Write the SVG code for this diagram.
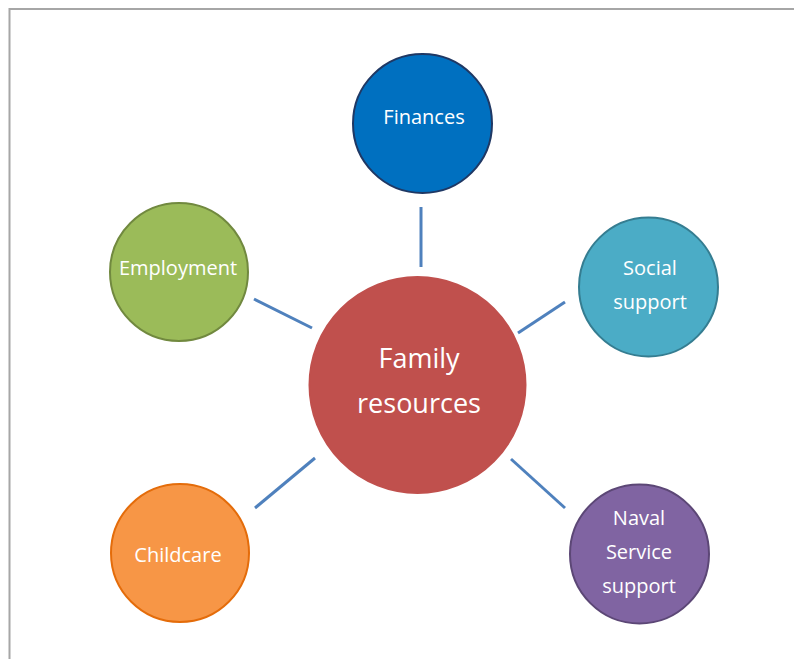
<svg xmlns="http://www.w3.org/2000/svg" width="794" height="659" viewBox="0 0 794 659">
<style>
.lbl{font-family:"Open Sans","Noto Sans",sans-serif;fill:#ffffff;text-anchor:middle;font-size:20px}
.big{font-size:27px}
.conn line{stroke:#4f81bd;stroke-width:3;fill:none}
.node circle{stroke-width:2}
</style>
<rect x="0" y="0" width="794" height="659" fill="#ffffff"/>
<rect x="9.5" y="9" width="800" height="700" fill="#ffffff" stroke="#a6a6a6" stroke-width="2"/>
<g id="connectors" class="conn">
<line x1="421" y1="207" x2="421" y2="267"/>
<line x1="254" y1="299" x2="312" y2="328"/>
<line x1="565" y1="302" x2="518" y2="333"/>
<line x1="315" y1="458" x2="255" y2="508"/>
<line x1="511" y1="459" x2="565" y2="508"/>
</g>
<g id="family-resources" class="node">
<circle cx="417.5" cy="385" r="108" fill="#c0504d" stroke="#c0504d"/>
<text class="lbl big" x="419" y="368">Family</text>
<text class="lbl big" x="419" y="413">resources</text>
</g>
<g id="finances" class="node">
<circle cx="422.5" cy="123.5" r="69.5" fill="#0070c0" stroke="#1f3864"/>
<text class="lbl" x="424" y="124">Finances</text>
</g>
<g id="employment" class="node">
<circle cx="179" cy="272" r="69" fill="#9bbb59" stroke="#71893f"/>
<text class="lbl" x="178" y="275">Employment</text>
</g>
<g id="social-support" class="node">
<circle cx="648.5" cy="287" r="69.5" fill="#4bacc6" stroke="#357d91"/>
<text class="lbl" x="650" y="275">Social</text>
<text class="lbl" x="650" y="309">support</text>
</g>
<g id="childcare" class="node">
<circle cx="180" cy="553" r="69" fill="#f79646" stroke="#e46c0a"/>
<text class="lbl" x="178" y="562">Childcare</text>
</g>
<g id="naval-service-support" class="node">
<circle cx="639.5" cy="554" r="69.5" fill="#8064a2" stroke="#5c4776"/>
<text class="lbl" x="639" y="525">Naval</text>
<text class="lbl" x="639" y="559">Service</text>
<text class="lbl" x="639" y="593">support</text>
</g>
</svg>
